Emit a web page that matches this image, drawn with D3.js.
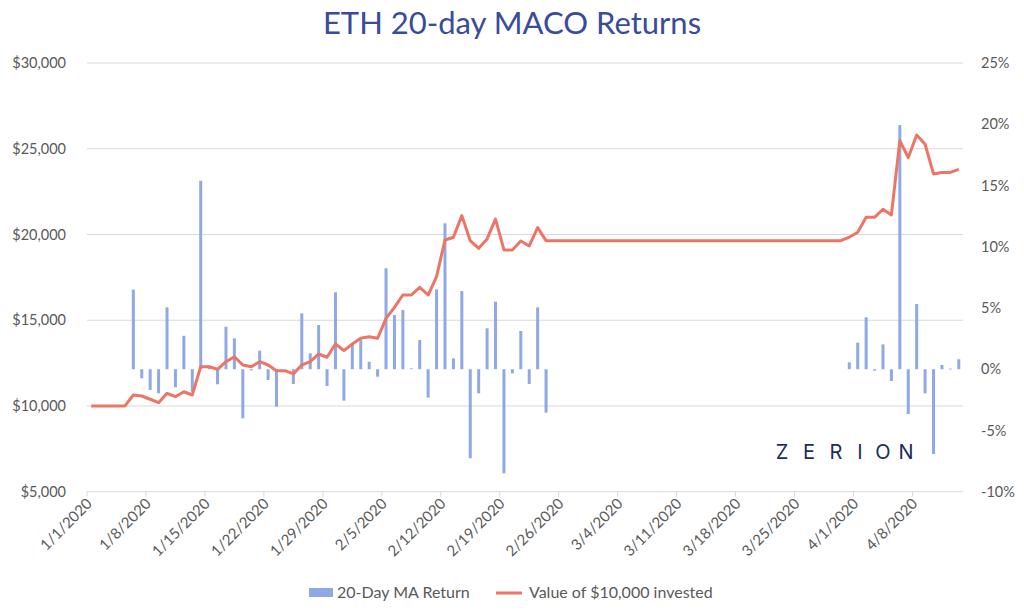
<!DOCTYPE html>
<html>
<head>
<meta charset="utf-8">
<script src="https://cdn.jsdelivr.net/npm/d3@7"></script>
<style>
  html, body { margin: 0; padding: 0; background: #fff; }
  svg { display: block; font-family: Lato, "Open Sans", sans-serif; }
</style>
</head>
<body>
<svg id="chart" width="1024" height="613"></svg>
<script>
// ETH 20-day MACO — rendement MA 20 jours (barres) et valeur de 10 000 $ investis (ligne)
const START_DATE = new Date(2020, 0, 1);
const DAY_COUNT = 104; // 1/1/2020 -> 4/13/2020

const tickLabels = ['1/1/2020', '1/8/2020', '1/15/2020', '1/22/2020', '1/29/2020', '2/5/2020', '2/12/2020',
  '2/19/2020', '2/26/2020', '3/4/2020', '3/11/2020', '3/18/2020', '3/25/2020', '4/1/2020', '4/8/2020'];
const leftTicks = [5000, 10000, 15000, 20000, 25000, 30000];
const rightTicks = [-10, -5, 0, 5, 10, 15, 20, 25];

// 20-Day MA Return, en %, un par jour (null = pas de barre)
const maReturn = [
  null, null, null, null, null, 6.5, -0.74, -1.69, -1.97, 5.05,
  -1.48, 2.73, -1.84, 15.39, 0.3, -1.23, 3.47, 2.52, -4.01, -0.1,
  1.51, -0.88, -3.06, null, -1.21, 4.56, 1.3, 3.61, -1.37, 6.28,
  -2.57, 1.98, 2.38, 0.61, -0.61, 8.24, 4.42, 4.83, 0.07, 2.38,
  -2.32, 6.52, 11.91, 0.89, 6.38, -7.27, -1.97, 3.34, 5.51, -8.5,
  -0.34, 3.12, -1.21, 5.05, -3.55, null, null, null, null, null,
  null, null, null, null, null, null, null, null, null, null,
  null, null, null, null, null, null, null, null, null, null,
  null, null, null, null, null, null, null, null, null, null,
  0.56, 2.17, 4.24, -0.12, 2.03, -0.96, 19.93, -3.66, 5.32, -1.97,
  -6.92, 0.35, 0.05, 0.81
];

// Value of $10,000 invested
const investedValue = [
  10000, 10000, 10000, 10000, 10000, 10640, 10580, 10390, 10190, 10740,
  10540, 10830, 10640, 12290, 12290, 12140, 12580, 12870, 12390, 12290,
  12580, 12390, 12060, 12060, 11870, 12390, 12580, 13030, 12840, 13610,
  13230, 13610, 13950, 14040, 13950, 15110, 15750, 16470, 16470, 16920,
  16470, 17540, 19680, 19840, 21100, 19640, 19190, 19740, 20900, 19100,
  19100, 19620, 19330, 20400, 19640, 19640, 19640, 19640, 19640, 19640,
  19640, 19640, 19640, 19640, 19640, 19640, 19640, 19640, 19640, 19640,
  19640, 19640, 19640, 19640, 19640, 19640, 19640, 19640, 19640, 19640,
  19640, 19640, 19640, 19640, 19640, 19640, 19640, 19640, 19640, 19640,
  19840, 20130, 21000, 21000, 21470, 21140, 25470, 24480, 25800, 25260,
  23530, 23620, 23620, 23800
];

const BAR_COLOR = '#8FA9E6';
const LINE_COLOR = '#EC7565';
const TEXT_COLOR = '#595959';
const GRID_COLOR = '#D9D9D9';

const svg = d3.select('#chart');
const X0 = 87, X1 = 963, Y_TOP = 63, Y_BOT = 491.7;

const x = d3.scaleBand().domain(d3.range(DAY_COUNT)).range([X0, X1]).padding(0);
const yLeft = d3.scaleLinear().domain([5000, 30000]).range([Y_BOT, Y_TOP]);
const yRight = d3.scaleLinear().domain([-10, 25]).range([Y_BOT, Y_TOP]);

// titre
svg.append('text')
  .attr('x', 512).attr('y', 34)
  .attr('text-anchor', 'middle')
  .style('font-size', '31px').style('fill', '#3A4B9A')
  .text('ETH 20-day MACO Returns');

// grille
svg.append('g').selectAll('line').data(leftTicks.slice(1)).join('line')
  .attr('x1', X0).attr('x2', X1)
  .attr('y1', d => yLeft(d)).attr('y2', d => yLeft(d))
  .attr('stroke', GRID_COLOR).attr('stroke-width', 1);

// axe gauche
const leftAxis = svg.append('g').attr('transform', `translate(${X0},0)`)
  .call(d3.axisLeft(yLeft).tickValues(leftTicks).tickSize(0).tickPadding(21)
    .tickFormat(d => '$' + d3.format(',')(d)));
leftAxis.select('.domain').remove();
leftAxis.selectAll('text').style('font-size', '14.5px').style('fill', TEXT_COLOR).style('font-family', 'Lato, sans-serif');

// axe droit
const rightAxis = svg.append('g').attr('transform', `translate(${X1},0)`)
  .call(d3.axisRight(yRight).tickValues(rightTicks).tickSize(0).tickPadding(18)
    .tickFormat(d => d + '%'));
rightAxis.select('.domain').remove();
rightAxis.selectAll('text').style('font-size', '14.5px').style('fill', TEXT_COLOR).style('font-family', 'Lato, sans-serif');

// axe des dates : graduations hebdomadaires au début de chaque bande
const tickIdx = d3.range(0, DAY_COUNT, 7);
const bottom = svg.append('g');
bottom.append('line')
  .attr('x1', X0).attr('x2', X1).attr('y1', Y_BOT).attr('y2', Y_BOT)
  .attr('stroke', GRID_COLOR);
bottom.selectAll('line.tick').data(tickIdx).join('line').attr('class', 'tick')
  .attr('x1', d => x(d)).attr('x2', d => x(d))
  .attr('y1', Y_BOT).attr('y2', Y_BOT + 5)
  .attr('stroke', GRID_COLOR);
bottom.selectAll('text').data(tickIdx).join('text')
  .attr('text-anchor', 'end')
  .attr('transform', d => `translate(${x(d) + 6},${Y_BOT + 13}) rotate(-45)`)
  .style('font-size', '15px').style('fill', TEXT_COLOR)
  .text((d, i) => tickLabels[i]);

// barres
const BAR_W = 3;
svg.append('g').selectAll('rect')
  .data(maReturn.map((v, i) => ({ i, v })).filter(d => d.v !== null))
  .join('rect')
  .attr('x', d => x(d.i) + x.bandwidth() / 2 - BAR_W / 2)
  .attr('width', BAR_W)
  .attr('y', d => Math.min(yRight(d.v), yRight(0)))
  .attr('height', d => Math.max(0.8, Math.abs(yRight(d.v) - yRight(0))))
  .attr('fill', BAR_COLOR);

// ligne
const line = d3.line()
  .x((d, i) => x(i) + x.bandwidth() / 2)
  .y(d => yLeft(d));
svg.append('path').datum(investedValue)
  .attr('d', line)
  .attr('fill', 'none').attr('stroke', LINE_COLOR)
  .attr('stroke-width', 3).attr('stroke-linejoin', 'round');

// logo Zerion
const logoLetters = ['Z', 'E', 'R', 'I', 'O', 'N'];
const logoX = [782, 809, 836, 860, 883, 906];
svg.append('g').selectAll('text').data(logoLetters).join('text')
  .attr('x', (d, i) => logoX[i]).attr('y', 458.5)
  .attr('text-anchor', 'middle')
  .style('font-size', '20px').style('font-weight', 400).style('fill', '#1E2B5E')
  .style('font-family', 'Inter, sans-serif')
  .text(d => d);

// légende
const legend = svg.append('g').style('font-size', '16px').style('fill', TEXT_COLOR);
legend.append('rect').attr('x', 309).attr('y', 588).attr('width', 24).attr('height', 9).attr('fill', BAR_COLOR);
legend.append('text').attr('x', 337).attr('y', 598).text('20-Day MA Return');
legend.append('line').attr('x1', 496).attr('x2', 522).attr('y1', 593).attr('y2', 593)
  .attr('stroke', LINE_COLOR).attr('stroke-width', 3);
legend.append('text').attr('x', 529).attr('y', 598).text('Value of $10,000 invested');
</script>
</body>
</html>
